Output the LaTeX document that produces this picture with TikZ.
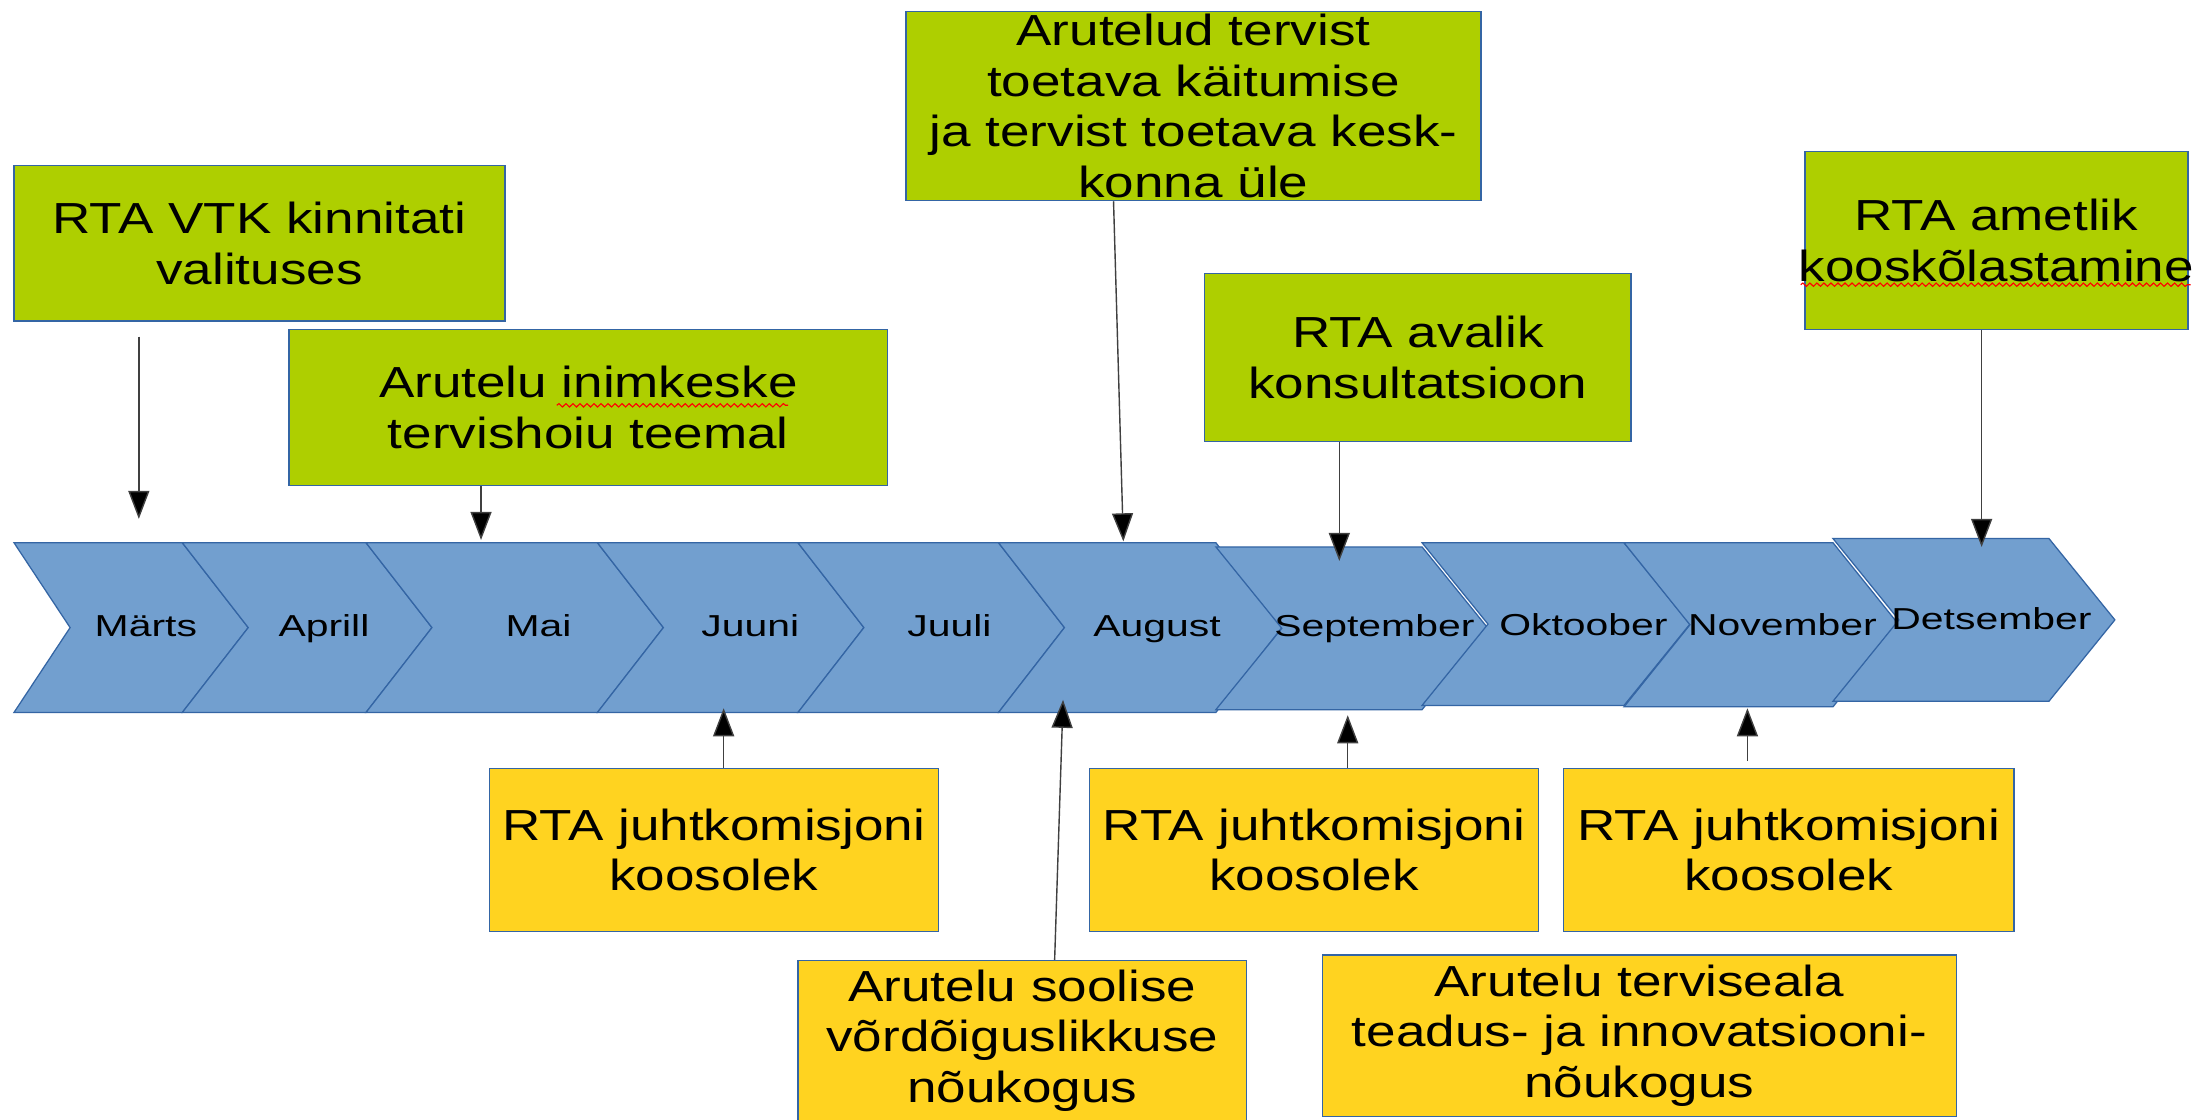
\documentclass[tikz,border=0pt]{standalone}
\usepackage{fontspec}
\setmainfont{Liberation Sans}[FakeStretch=1.22]
\newfontfamily\monthfont{Liberation Sans}[FakeStretch=1.35]
\usetikzlibrary{arrows.meta,decorations.pathmorphing}
\definecolor{gbox}{HTML}{AECF00}
\definecolor{ybox}{HTML}{FFD320}
\definecolor{chev}{HTML}{729FCF}
\definecolor{bord}{HTML}{3465A4}
\tikzset{
 evbox/.style={draw=bord, line width=1pt, align=center, inner sep=0pt, font=\fontsize{31}{36}\selectfont},
 greenbox/.style={evbox, fill=gbox},
 yellowbox/.style={evbox, fill=ybox},
 chevshape/.style={fill=chev, draw=bord, line width=0.9pt, line join=miter},
 mlabel/.style={font=\monthfont\fontsize{21.6}{26}\selectfont, anchor=base, inner sep=0pt},
 arr/.style={draw=black!75, line width=1pt, -{Triangle[width=15pt,length=20pt,fill=black]}},
 spell/.style={draw=red, line width=0.8pt, decorate, decoration={snake, segment length=5pt, amplitude=1.2pt}}
}
\begin{document}
\begin{tikzpicture}[x=1pt,y=-1pt]
\fill[white] (0,0) rectangle (1568,798);
\useasboundingbox (0,0) rectangle (1568,798);
% chevrons
\draw[chevshape] (10,387) -- (130,387) -- (177,447.5) -- (130,508) -- (10,508) -- (50,447.5) -- cycle;
\foreach \L/\R/\T/\B in {130/261/387/508, 261/426/387/508, 426/569/387/508, 569/712/387/508, 712/867/387/508, 867/1014/390/506, 1014/1158/387/503, 1158/1307/387/504, 1307/1461/384/500}
 \draw[chevshape] (\L,\T) -- (\R,\T) -- ({\R+47},{(\T+\B)/2}) -- (\R,\B) -- (\L,\B) -- ({\L+47},{(\T+\B)/2}) -- cycle;
% month labels
\node[mlabel] (m1) at (104,454) {Märts};
\node[mlabel] (m2) at (231,454) {Aprill};
\node[mlabel] (m3) at (384,454) {Mai};
\node[mlabel] (m4) at (535,454) {Juuni};
\node[mlabel] (m5) at (677,454) {Juuli};
\node[mlabel] (m6) at (825,454) {August};
\node[mlabel] (m7) at (980,454) {September};
\node[mlabel] (m8) at (1129,453) {Oktoober};
\node[mlabel] (m9) at (1271,453) {November};
\node[mlabel] (m10) at (1420,449) {Detsember};
% green boxes
\node[greenbox, minimum width=350pt, minimum height=111pt] (g1) at (185,173.5) {RTA VTK kinnitati\\valituses};
\node[greenbox, minimum width=427pt, minimum height=111pt] (g2) at (419.5,290.5) {Arutelu inimkeske\\tervishoiu teemal};
\node[greenbox, minimum width=410pt, minimum height=135pt] (g3) at (851,75.5) {Arutelud tervist\\toetava käitumise\\ja tervist toetava kesk-\\konna üle};
\node[greenbox, minimum width=304pt, minimum height=120pt] (g4) at (1011,255) {RTA avalik\\konsultatsioon};
\node[greenbox, minimum width=273pt, minimum height=127pt] (g5) at (1423.5,171.5) {RTA ametlik\\\makebox[0pt]{kooskõlastamine}};
% yellow boxes
\node[yellowbox, minimum width=320pt, minimum height=116pt] (y1) at (509,606) {RTA juhtkomisjoni\\koosolek};
\node[yellowbox, minimum width=320pt, minimum height=116pt] (y2) at (937,606) {RTA juhtkomisjoni\\koosolek};
\node[yellowbox, minimum width=321pt, minimum height=116pt] (y3) at (1275.5,606) {RTA juhtkomisjoni\\koosolek};
\node[yellowbox, minimum width=320pt, minimum height=114pt] (y4) at (729,742) {Arutelu soolise\\võrdõiguslikkuse\\nõukogus};
\node[yellowbox, minimum width=452pt, minimum height=115pt] (y5) at (1169,738.5) {Arutelu terviseala\\teadus- ja innovatsiooni-\\nõukogus};
% spell-check marks
\draw[spell] (397,289) -- (562,289);
\draw[spell] (1284,203) -- (1562,203);
% arrow end points
\coordinate (a1s) at (99,240);
\coordinate (a1e) at (99,370);
\coordinate (a2e) at (343,385);
\coordinate (a3e) at (801,386);
\coordinate (a4e) at (955,400);
\coordinate (a5e) at (1413,390);
\coordinate (b1e) at (516,505);
\coordinate (b2e) at (961,510);
\coordinate (b3e) at (1246,505);
\coordinate (b4e) at (758,499);
% arrows
\draw[arr] (a1s) -- (a1e);
\draw[arr] (g2.south -| a2e) -- (a2e);
\draw[arr] ([xshift=-57pt]g3.south) -- (a3e);
\draw[arr] (g4.south -| a4e) -- (a4e);
\draw[arr] (g5.south -| a5e) -- (a5e);
\draw[arr] (y1.north -| b1e) -- (b1e);
\draw[arr] (y2.north -| b2e) -- (b2e);
\draw[arr] ([yshift=5pt]y3.north -| b3e) -- (b3e);
\draw[arr] ([xshift=23pt]y4.north) -- (b4e);
\end{tikzpicture}
\end{document}
